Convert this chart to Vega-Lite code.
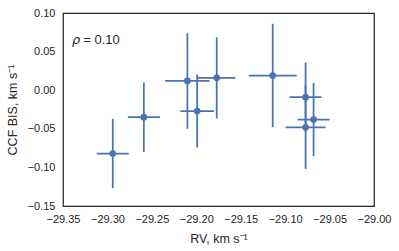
{
  "$schema": "https://vega.github.io/schema/vega-lite/v6.json",
  "autosize": {"type": "none"},
  "padding": {"left": 63, "top": 13, "right": 25, "bottom": 45},
  "width": 311,
  "height": 193,
  "background": "white",
  "config": {
    "font": "Liberation Sans",
    "view": {"stroke": "#262626", "strokeWidth": 1.25},
    "axis": {
      "grid": false,
      "domain": false,
      "ticks": false,
      "labelOverlap": false,
      "labelFlush": false,
      "labelBound": false,
      "labelFont": "Liberation Sans",
      "labelFontSize": 11,
      "labelColor": "#262626",
      "titleFont": "Liberation Sans",
      "titleFontSize": 12.5,
      "titleFontWeight": "normal",
      "titleColor": "#262626"
    }
  },
  "datasets": {
    "pts": [
      {"rv": -29.294, "bis": -0.082, "rv_lo": -29.312, "rv_hi": -29.276, "bis_lo": -0.127, "bis_hi": -0.037},
      {"rv": -29.259, "bis": -0.035, "rv_lo": -29.277, "rv_hi": -29.241, "bis_lo": -0.080, "bis_hi": 0.010},
      {"rv": -29.210, "bis": 0.012, "rv_lo": -29.235, "rv_hi": -29.185, "bis_lo": -0.050, "bis_hi": 0.074},
      {"rv": -29.199, "bis": -0.027, "rv_lo": -29.218, "rv_hi": -29.180, "bis_lo": -0.0745, "bis_hi": 0.0205},
      {"rv": -29.177, "bis": 0.016, "rv_lo": -29.198, "rv_hi": -29.156, "bis_lo": -0.0365, "bis_hi": 0.0685},
      {"rv": -29.114, "bis": 0.019, "rv_lo": -29.141, "rv_hi": -29.087, "bis_lo": -0.048, "bis_hi": 0.086},
      {"rv": -29.077, "bis": -0.009, "rv_lo": -29.095, "rv_hi": -29.059, "bis_lo": -0.054, "bis_hi": 0.036},
      {"rv": -29.077, "bis": -0.048, "rv_lo": -29.0995, "rv_hi": -29.0545, "bis_lo": -0.102, "bis_hi": 0.006},
      {"rv": -29.068, "bis": -0.038, "rv_lo": -29.086, "rv_hi": -29.050, "bis_lo": -0.0855, "bis_hi": 0.0095}
    ],
    "ann": [
      {"rv": -29.340, "bis": 0.0598, "label": "ρ"},
      {"rv": -29.3272, "bis": 0.0598, "label": "= 0.10"}
    ]
  },
  "encoding": {
    "x": {"field": "rv", "type": "quantitative", "title": "RV, km s⁻¹",
          "scale": {"domain": [-29.35, -29.0], "nice": false, "zero": false},
          "axis": {"values": [-29.35, -29.3, -29.25, -29.2, -29.15, -29.1, -29.05, -29.0], "format": ".2f", "labelPadding": 7, "titlePadding": 8, "labelOverlap": false}},
    "y": {"field": "bis", "type": "quantitative", "title": "CCF BIS, km s⁻¹",
          "scale": {"domain": [-0.15, 0.10], "nice": false, "zero": false},
          "axis": {"values": [-0.15, -0.1, -0.05, 0, 0.05, 0.1], "format": ".2f", "labelPadding": 8, "titlePadding": 8, "labelOverlap": false}}
  },
  "layer": [
    {
      "data": {"name": "pts"},
      "mark": {"type": "rule", "strokeWidth": 1.75, "color": "#4C72B0"},
      "encoding": {
        "x": {"field": "rv_lo", "type": "quantitative"},
        "x2": {"field": "rv_hi"}
      }
    },
    {
      "data": {"name": "pts"},
      "mark": {"type": "rule", "strokeWidth": 1.75, "color": "#4C72B0"},
      "encoding": {
        "y": {"field": "bis_lo", "type": "quantitative"},
        "y2": {"field": "bis_hi"}
      }
    },
    {
      "data": {"name": "pts"},
      "mark": {"type": "point", "filled": true, "opacity": 1, "size": 45, "color": "#4C72B0"}
    },
    {
      "data": {"name": "ann"},
      "transform": [{"filter": "datum.label == 'ρ'"}],
      "mark": {"type": "text", "align": "left", "baseline": "alphabetic", "font": "DejaVu Sans", "fontStyle": "italic", "fontSize": 13, "color": "#262626"},
      "encoding": {"text": {"field": "label"}}
    },
    {
      "data": {"name": "ann"},
      "transform": [{"filter": "datum.label != 'ρ'"}],
      "mark": {"type": "text", "align": "left", "baseline": "alphabetic", "font": "Liberation Sans", "fontSize": 13, "color": "#262626"},
      "encoding": {"text": {"field": "label"}}
    }
  ]
}
